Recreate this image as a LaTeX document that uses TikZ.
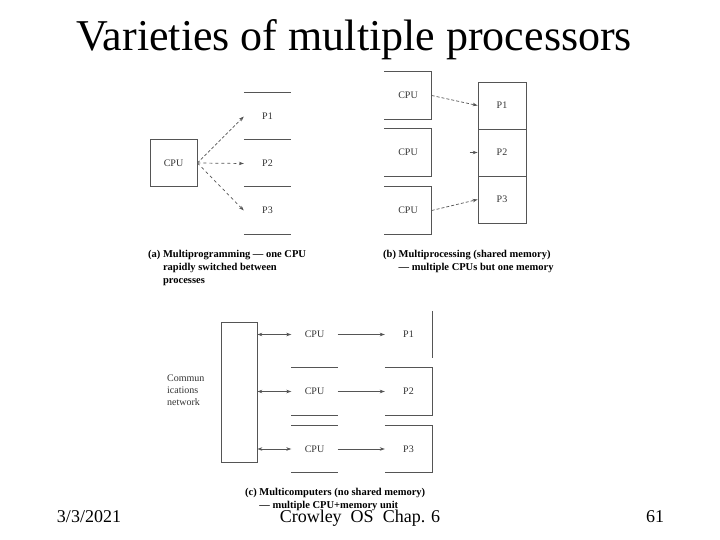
\documentclass[tikz,border=0pt]{standalone}
\usepackage{fontspec}
\setmainfont{Liberation Serif}
\usetikzlibrary{arrows.meta, positioning, calc}
\definecolor{figline}{HTML}{555555}
\definecolor{figtext}{HTML}{333333}
\tikzset{
  unit/.style={rectangle, inner sep=0pt, minimum width=47pt, minimum height=47pt,
    font=\fontsize{10}{12}\selectfont, text=figtext},
  cell/.style={unit, draw=figline, line width=0.8pt},
  rule/.style={draw=figline, line width=0.8pt},
  ar/.style={-{Stealth[length=5pt, width=3.5pt]}, figline, line width=0.7pt},
  dar/.style={ar, dashed},
  bar/.style={{Stealth[length=5pt, width=3.5pt]}-{Stealth[length=5pt, width=3.5pt]},
    figline, line width=0.7pt},
  caption/.style={align=left, anchor=north west, inner sep=0pt,
    font=\bfseries\fontsize{10.5}{13}\selectfont},
  slide/.style={inner sep=0pt, anchor=base, font=\fontsize{18}{20}\selectfont},
}

\begin{document}
\begin{tikzpicture}[x=1pt, y=-1pt]
  \useasboundingbox (0,0) rectangle (720,540);

  % --- Titel ---
  \node[slide, font=\fontsize{44}{48}\selectfont] (title) at (354,51)
        {Varieties of multiple processors};

  % --- (a) Multiprogramming ---
  \node[cell] (cpua) at (173.5,163) {CPU};
  \foreach \i/\y in {1/116.5, 2/163.5, 3/210.5}
    \node[unit] (pa\i) at (267.5,\y) {P\i};
  \foreach \i in {1,2,3}
    \draw[rule] (pa\i.north west) -- (pa\i.north east);
  \draw[rule] (pa3.south west) -- (pa3.south east);
  \draw[ar, densely dashed] (cpua.east) -- (pa1.west);
  \draw[dar] (cpua.east) -- (pa2.west);
  \draw[dar] (cpua.east) -- (pa3.west);

  % --- (b) Multiprocessing ---
  \foreach \i/\y in {1/95.5, 2/152.5, 3/210.5} {
    \node[unit] (cpub\i) at (408,\y) {CPU};
    \draw[rule] (cpub\i.north west) -- (cpub\i.north east)
      -- (cpub\i.south east) -- (cpub\i.south west);
  }
  \foreach \i/\y in {1/105.5, 2/152.5, 3/199.5}
    \node[cell, minimum width=48pt] (mem\i) at (502,\y) {P\i};
  \draw[ar, densely dashed] (cpub1.east) -- (mem1.west);
  \coordinate (stub) at ($(mem2.west)+(-8,0)$);
  \draw[ar] (stub) -- (mem2.west);
  \draw[ar, densely dashed] (cpub3.east) -- (mem3.west);

  % --- captions (a), (b) ---
  \node[caption] (capa) at (148,250)
        {(a) Multiprogramming --- one CPU\\
         \phantom{(a) }rapidly switched between\\
         \phantom{(a) }processes};
  \node[caption] (capb) at (383,250)
        {(b) Multiprocessing (shared memory)\\
         \phantom{(b) }--- multiple CPUs but one memory};

  % --- (c) Multicomputers ---
  \node[rectangle, draw=figline, line width=0.8pt, minimum width=36pt,
        minimum height=140pt] (net) at (239,392) {};
  \node[unit, align=left, anchor=west, minimum width=0pt, minimum height=0pt]
        (netlbl) at (167,390) {Commun\\ications\\network};
  \foreach \i/\y in {1/334.5, 2/391.5, 3/449} {
    \node[unit, minimum width=46pt] (cpuc\i) at (314.5,\y) {CPU};
    \node[unit] (pc\i) at (408.5,\y) {P\i};
    \draw[bar] (net.east |- cpuc\i.west) -- (cpuc\i.west);
    \draw[ar] (cpuc\i.east) -- (pc\i.west);
  }
  \foreach \i in {2,3} {
    \draw[rule] (cpuc\i.north west) -- (cpuc\i.north east);
    \draw[rule] (cpuc\i.south west) -- (cpuc\i.south east);
    \draw[rule] (pc\i.north west) -- (pc\i.north east)
      -- (pc\i.south east) -- (pc\i.south west);
  }
  \draw[rule] (pc1.north east) -- (pc1.south east);

  \node[caption] (capc) at (245,488)
        {(c) Multicomputers (no shared memory)\\
         \phantom{(c) }--- multiple CPU+memory unit};

  % --- Fusszeile ---
  \node[slide] (date) at (89,522) {3/3/2021};
  \node[slide] (course) at (360,522) {Crowley\enspace OS\enspace Chap. 6};
  \node[slide] (page) at (655,522) {61};

\end{tikzpicture}
\end{document}
